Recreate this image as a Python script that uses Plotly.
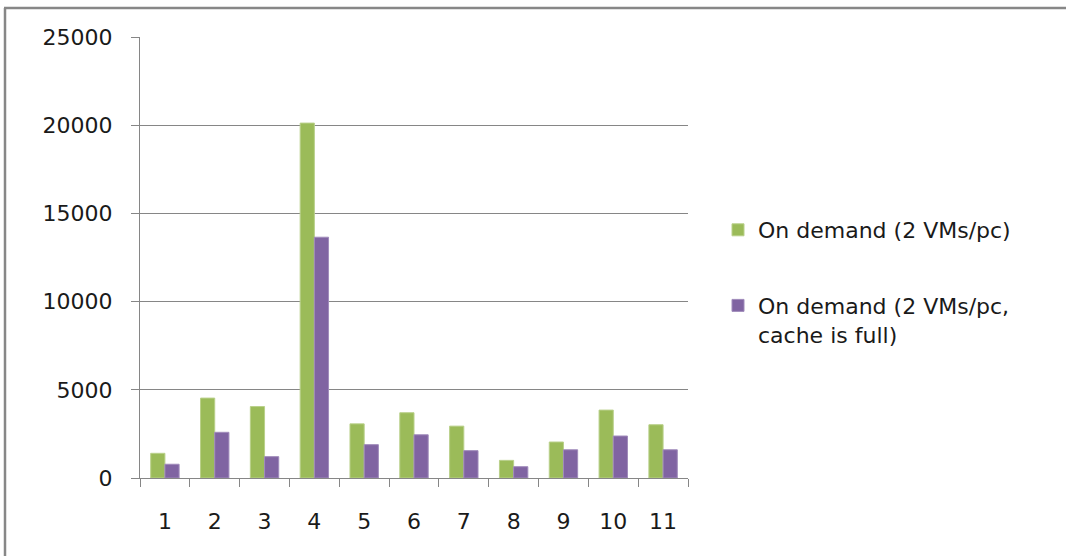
import plotly.graph_objects as go

categories = ["1", "2", "3", "4", "5", "6", "7", "8", "9", "10", "11"]
on_demand = [1400, 4530, 4050, 20120, 3070, 3700, 2940, 1000, 2040, 3850, 3020]
on_demand_full = [780, 2590, 1210, 13650, 1890, 2450, 1550, 640, 1600, 2380, 1600]
y_ticks = [0, 5000, 10000, 15000, 20000, 25000]

W, H = 1066, 556
L, R, T, B = 140, 1066 - 688, 37, 556 - 478
pw, ph = W - L - R, H - T - B

def px_x(x):
    return (x - L) / pw

def px_y(y):
    return (H - B - y) / ph

fig = go.Figure()
fig.add_trace(go.Bar(
    x=categories, y=on_demand, name="On demand (2 VMs/pc)",
    marker=dict(color="#9BBB59", line=dict(color="#B9D08A", width=1)),
    legendgroup="a",
))
fig.add_trace(go.Bar(
    x=categories, y=on_demand_full, name="On demand (2 VMs/pc,<br>cache is full)",
    marker=dict(color="#8064A2", line=dict(color="#A08BBB", width=1)),
    legendgroup="b",
))

font = dict(family="DejaVu Sans", size=22, color="#1a1a1a")

fig.update_layout(
    width=W, height=H,
    margin=dict(l=L, r=R, t=T, b=B, pad=0),
    paper_bgcolor="white", plot_bgcolor="white",
    font=font,
    barmode="group", bargap=0.43, bargroupgap=0,
    showlegend=True,
    legend=dict(
        x=px_x(718), xanchor="left", y=px_y(209), yanchor="top",
        font=font, tracegroupgap=44, traceorder="grouped", valign="top",
        bgcolor="rgba(0,0,0,0)",
    ),
    xaxis=dict(
        type="category", showgrid=False, showline=True, linecolor="#868686", linewidth=1,
        ticks="outside", tickson="boundaries", ticklen=8, tickcolor="#868686",
        ticklabelstandoff=24, fixedrange=True,
    ),
    yaxis=dict(
        range=[0, 25000], tickvals=y_ticks, ticktext=[str(v) for v in y_ticks],
        showgrid=True, gridcolor="#868686", gridwidth=1,
        showline=True, linecolor="#868686", linewidth=1,
        ticks="outside", ticklen=8, tickcolor="#868686",
        ticklabelstandoff=14, zeroline=False,
    ),
    shapes=[
        dict(type="line", xref="paper", yref="paper",
             x0=px_x(5), x1=px_x(5), y0=px_y(560), y1=px_y(8),
             line=dict(color="#878787", width=2.5)),
        dict(type="line", xref="paper", yref="paper",
             x0=px_x(4), x1=px_x(1070), y0=px_y(8), y1=px_y(8),
             line=dict(color="#878787", width=2.5)),
    ],
)

fig.write_html("out.html")
